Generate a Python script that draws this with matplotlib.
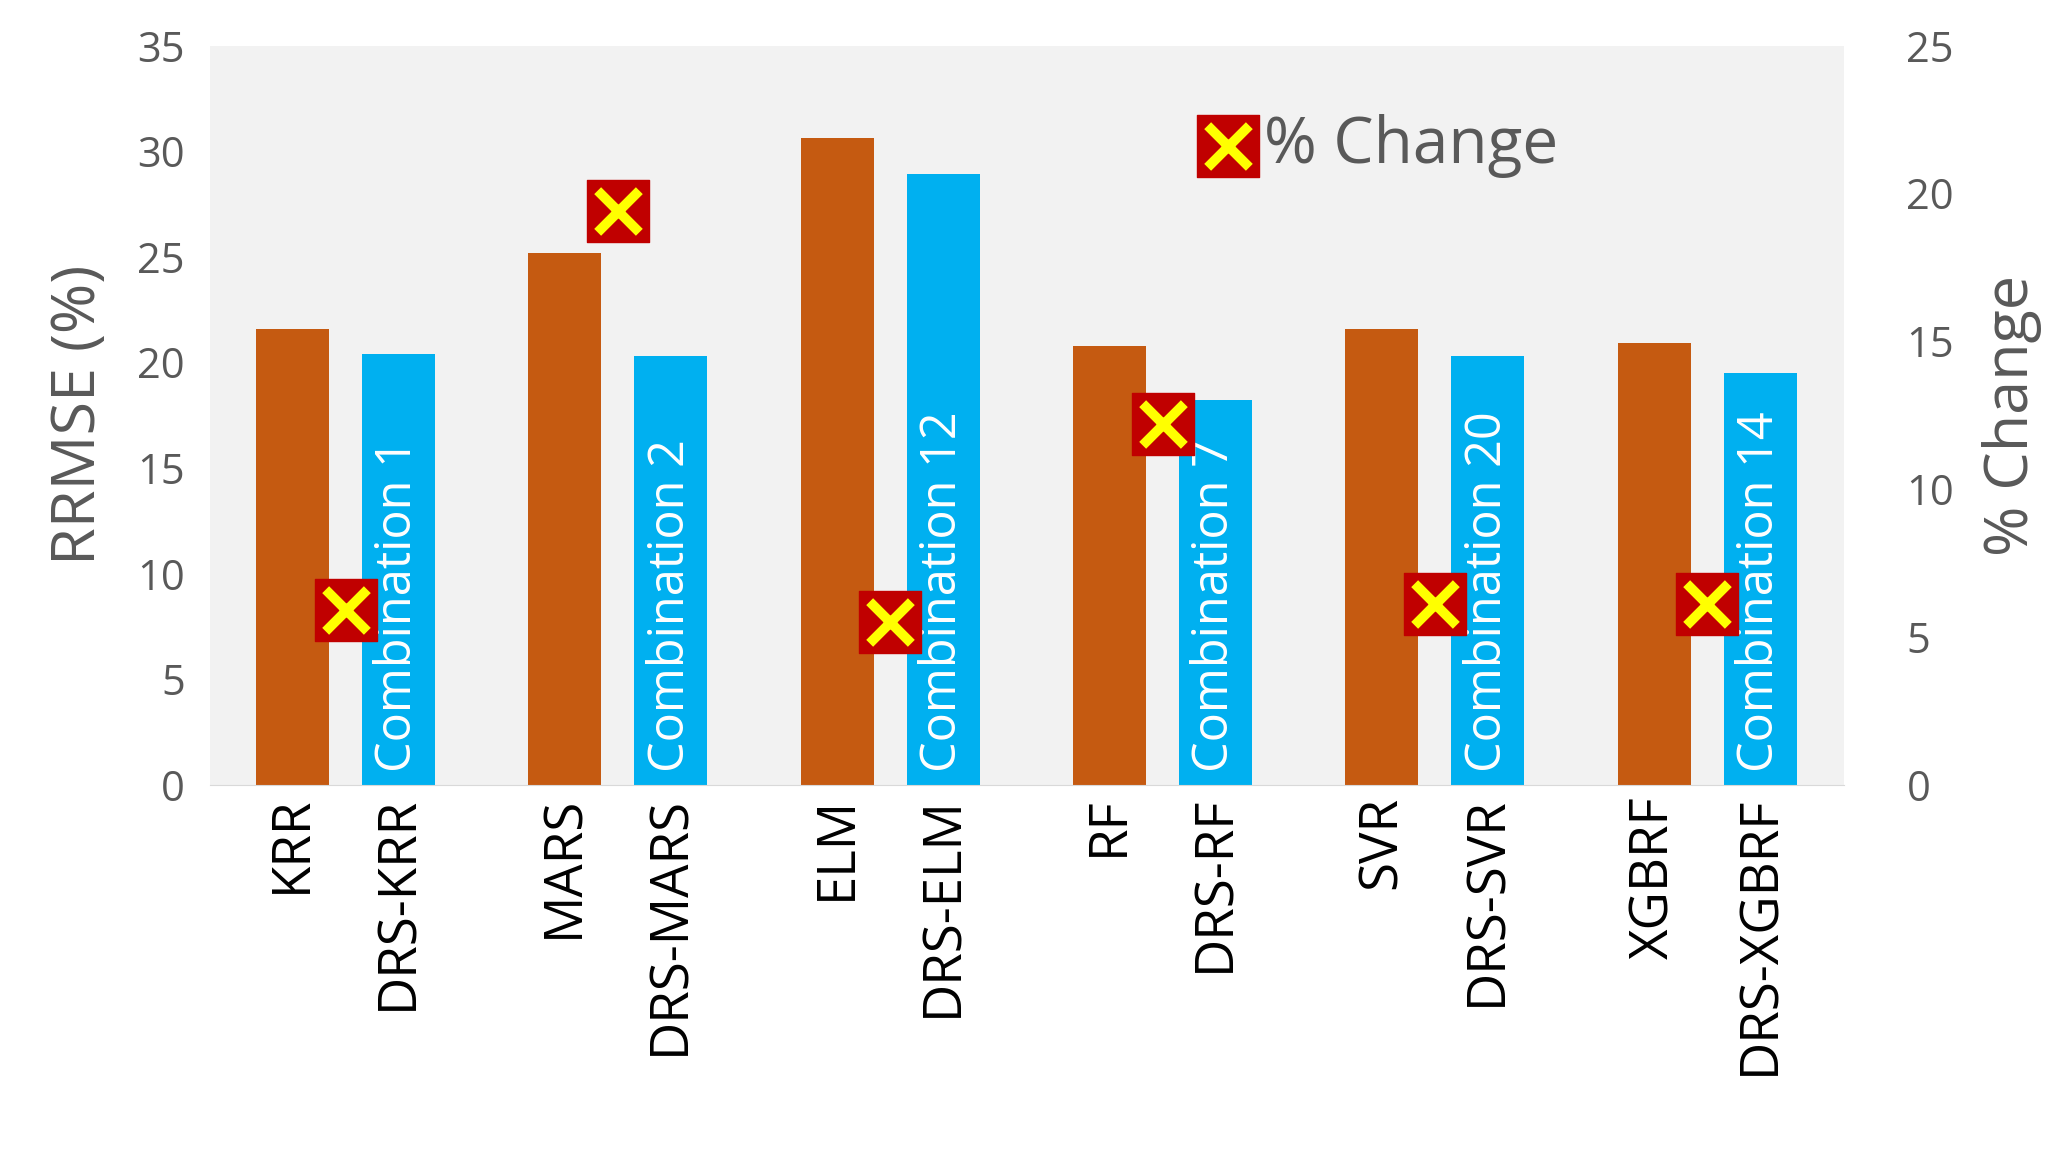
import matplotlib
matplotlib.use("Agg")
import matplotlib.pyplot as plt
import numpy as np

models = ["KRR", "MARS", "ELM", "RF", "SVR", "XGBRF"]
base_rrmse = [21.6, 25.2, 30.6, 20.8, 21.6, 20.9]
drs_rrmse = [20.4, 20.3, 28.9, 18.2, 20.3, 19.5]
combos = ["Combination 1", "Combination 2", "Combination 12", "Combination 7", "Combination 20", "Combination 14"]
pct_change = [5.9, 19.4, 5.5, 12.2, 6.1, 6.1]

plt.rcParams['font.family'] = ['Open Sans', 'DejaVu Sans']
gray = '#595959'
fig = plt.figure(figsize=(20.58, 11.68), dpi=100)
ax = fig.add_axes([0.102, 0.328, 0.794, 0.633])
ax.set_facecolor('#F2F2F2')
g = 2.57
w = 0.69
xb = np.arange(len(models)) * g
xd = xb + 1
ax.bar(xb, base_rrmse, w, color='#C55A11')
ax.bar(xd, drs_rrmse, w, color='#00B0F0')
for x, t in zip(xd, combos):
    ax.text(x, 0.6, t, rotation=90, ha='center', va='bottom', color='white', fontsize=35)
ax.set_ylim(0, 35)
ax.set_yticks(range(0, 36, 5))
ax.set_xlim(-0.78, xd[-1] + 0.79)
ticks = []
labels = []
for m, a, b in zip(models, xb, xd):
    ticks += [a, b]; labels += [m, "DRS-" + m]
ax.set_xticks(ticks)
ax.set_xticklabels(labels, rotation=90, fontsize=38, color='black')
ax.tick_params(axis='y', labelsize=30, colors=gray, length=0, pad=18)
ax.tick_params(axis='x', length=0, pad=8)
for s in ['top', 'right', 'left']:
    ax.spines[s].set_visible(False)
ax.spines['bottom'].set_color('#D9D9D9')
ax.set_ylabel("RRMSE (%)", fontsize=44, color=gray, labelpad=20)

ax2 = ax.twinx()
ax2.set_ylim(0, 25)
ax2.set_yticks(range(0, 26, 5))
ax2.tick_params(axis='y', labelsize=30, colors=gray, length=0, pad=45)
for s in ax2.spines.values():
    s.set_visible(False)
ax2.set_ylabel("% Change", fontsize=44, color=gray, labelpad=20)
xm = (xb + xd) / 2
ax2.scatter(xm, pct_change, marker='s', s=2000, color='#C00000', zorder=3)
ax2.scatter(xm, pct_change, marker='x', s=900, color='#FFFF00', linewidths=7, zorder=4)
# legend
lx = xm[3] + 0.62
ax2.scatter([lx], [21.6], marker='s', s=2000, color='#C00000', zorder=3)
ax2.scatter([lx], [21.6], marker='x', s=900, color='#FFFF00', linewidths=7, zorder=4)
ax2.text(lx + 0.34, 21.6, "% Change", fontsize=46, color=gray, va='center', ha='left')

fig.savefig("out.png", dpi=100)
